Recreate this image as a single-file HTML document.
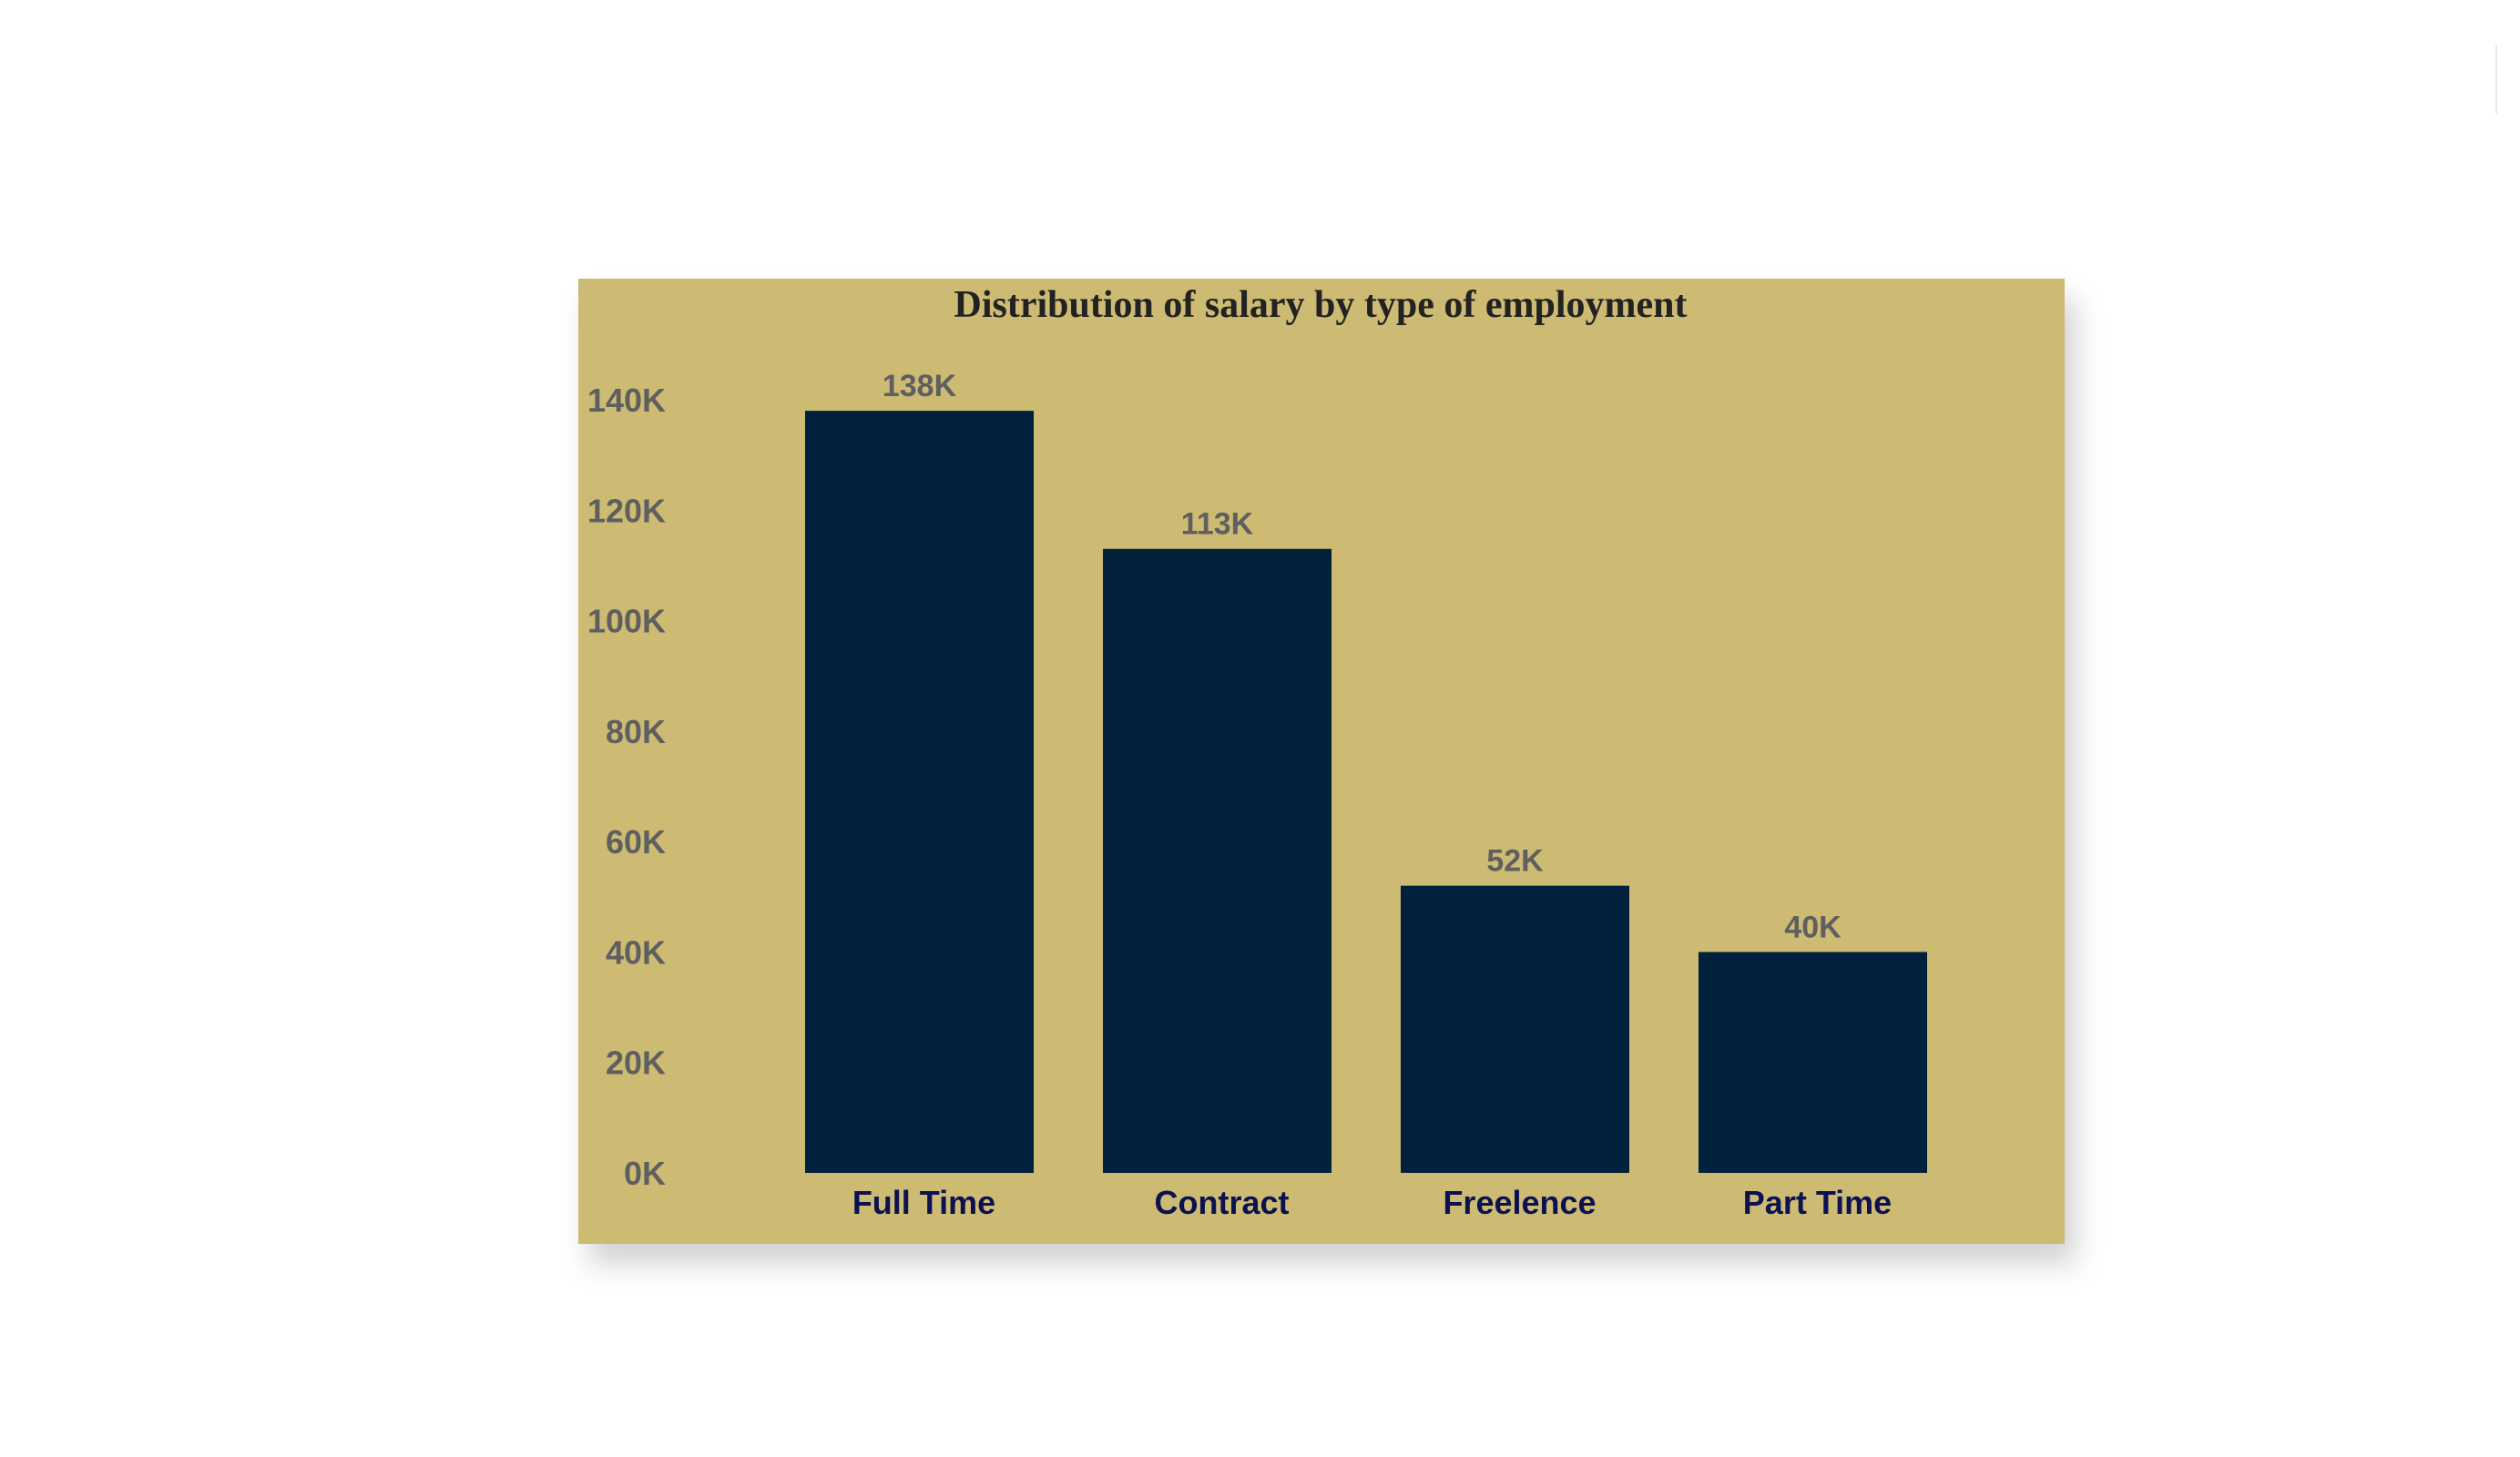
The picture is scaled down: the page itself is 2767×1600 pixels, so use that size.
<!DOCTYPE html>
<html><head><meta charset="utf-8"><style>
body{margin:0;width:2767px;height:1600px;background:#fff;overflow:hidden;position:relative;font-family:"Liberation Sans",sans-serif}
#panel{position:absolute;left:635px;top:306px;width:1632px;height:1060px;background:#cdbb73;box-shadow:12px 22px 30px rgba(0,0,0,0.18)}
#edge{position:absolute;left:2740px;top:50px;width:2px;height:75px;background:#e8e8e8}
</style></head><body>
<div id="edge"></div>
<div id="panel"></div>
<svg id="chart" width="2767" height="1600" style="position:absolute;left:0;top:0">
<text x="1450" y="348" text-anchor="middle" font-family="Liberation Serif, serif" font-weight="bold" font-size="42" fill="#222">Distribution of salary by type of employment</text>
</svg>
<script>
const categories=["Full Time","Contract","Freelence","Part Time"];
const values=[138,113,52,40];
const valueLabels=["138K","113K","52K","40K"];
const ticks=[0,20,40,60,80,100,120,140];
const tickLabels=["0K","20K","40K","60K","80K","100K","120K","140K"];
const svg=document.getElementById('chart');
const NS='http://www.w3.org/2000/svg';
const baseY=1288, pxPerUnit=849/140;
const y=v=>baseY-v*pxPerUnit;
const x0=884, step=327, bw=251;
const x=i=>x0+i*step;
function mk(tag,attrs,txt){const e=document.createElementNS(NS,tag);for(const k in attrs)e.setAttribute(k,attrs[k]);if(txt!=null)e.textContent=txt;svg.appendChild(e);return e;}
ticks.forEach((t,i)=>{
 const e=mk('text',{x:731,y:y(t)+13,'text-anchor':'end','font-size':36,'font-weight':'bold',fill:'#5f5f5f'},tickLabels[i]);
 
 
});
categories.forEach((c,i)=>{
 const r=mk('rect',{x:x(i),y:y(values[i]),width:bw,height:baseY-y(values[i]),fill:'#01203b'});
 
 
 const v=mk('text',{x:x(i)+bw/2,y:y(values[i])-16,'text-anchor':'middle','font-size':34,'font-weight':'bold',fill:'#5f5f5f'},valueLabels[i]);
 
 
 const l=mk('text',{x:x(i)+bw/2+5,y:1333,'text-anchor':'middle','font-size':36,'font-weight':'bold',fill:'#0c1250'},c);
 
 
});
</script>
</body></html>
